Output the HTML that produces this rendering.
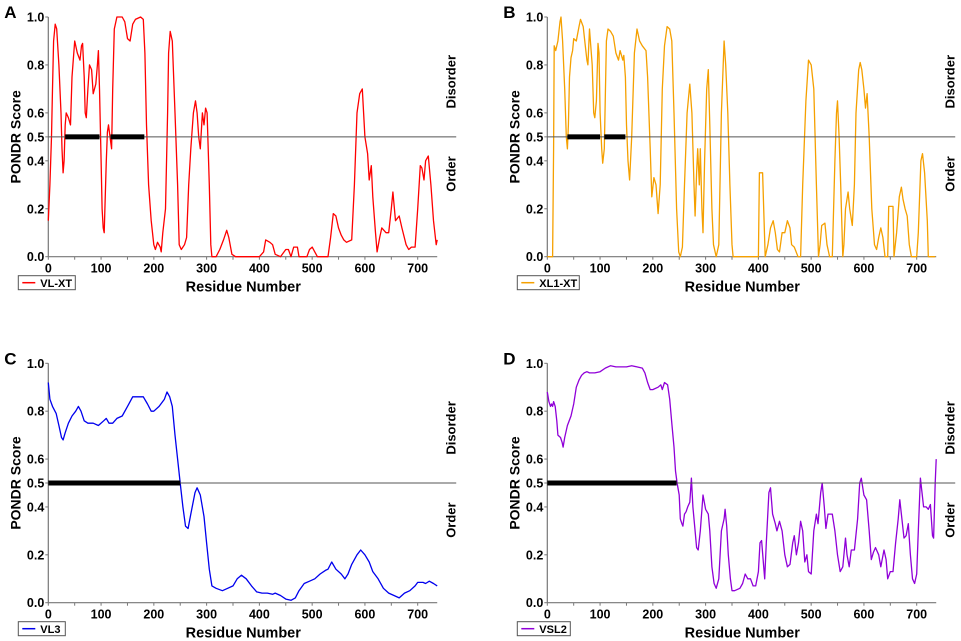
<!DOCTYPE html>
<html><head><meta charset="utf-8"><style>
body{margin:0;background:#fff;}
svg{display:block;font-family:"Liberation Sans",Arial,sans-serif;font-weight:bold;}
</style></head><body>
<svg id="fig" width="961" height="641" viewBox="0 0 961 641"></svg>
<script>
// Panel A: VL-XT
const resA=[0,3,6,8,10,13,16,20,24,26,28,30,32,34,38,42,45,50,55,60,63,65,68,70,72,75,78,82,85,90,93,95,97,100,102,104,106,110,112,114,117,120,122,125,130,140,145,150,155,160,165,175,180,183,186,190,195,200,203,207,212,214,217,222,226,228,231,235,240,245,248,252,258,262,266,270,275,279,282,285,288,292,295,298,301,305,308,310,318,325,332,338,342,348,355,400,408,412,420,425,430,440,450,455,460,465,472,475,490,495,500,505,510,530,535,540,545,550,555,560,565,575,580,585,590,595,600,605,608,612,615,620,623,628,632,640,645,650,653,658,665,670,678,683,688,695,700,705,708,712,715,720,725,730,735,737];
const valA=[0.15,0.3,0.5,0.7,0.9,0.97,0.95,0.8,0.6,0.45,0.35,0.4,0.55,0.6,0.58,0.55,0.75,0.9,0.85,0.82,0.88,0.89,0.75,0.6,0.58,0.7,0.8,0.78,0.68,0.72,0.8,0.86,0.7,0.4,0.2,0.12,0.1,0.4,0.52,0.55,0.5,0.45,0.7,0.95,1.0,1.0,0.98,0.91,0.9,0.97,0.99,1.0,0.99,0.85,0.55,0.3,0.15,0.05,0.03,0.06,0.04,0.02,0.1,0.2,0.6,0.85,0.94,0.9,0.6,0.3,0.05,0.03,0.05,0.08,0.3,0.45,0.6,0.65,0.6,0.5,0.45,0.6,0.55,0.62,0.6,0.3,0.05,0,0,0.03,0.07,0.11,0.08,0.01,0,0,0.02,0.07,0.06,0.05,0.01,0,0.03,0.03,0,0.04,0.04,0,0,0.03,0.04,0.02,0,0,0.08,0.18,0.17,0.12,0.09,0.07,0.06,0.07,0.3,0.6,0.68,0.7,0.5,0.43,0.32,0.38,0.25,0.1,0.02,0.08,0.12,0.1,0.1,0.2,0.27,0.15,0.17,0.12,0.05,0.03,0.04,0.04,0.2,0.38,0.37,0.32,0.4,0.42,0.3,0.15,0.05,0.07];
const barsA=[[32,97],[118,182]];
// Panel B: XL1-XT
const resB=[0,10,12,13,16,20,24,26,29,33,36,38,40,42,45,48,50,55,60,63,68,72,75,77,80,85,88,90,93,96,98,100,103,105,108,112,115,120,125,130,135,138,143,145,148,150,153,156,160,165,170,175,180,187,190,195,198,202,206,210,214,218,222,227,232,236,240,245,249,252,256,260,265,270,274,278,280,283,285,288,290,293,295,298,302,305,308,312,315,320,325,330,335,338,342,346,350,352,400,402,408,410,413,418,423,428,432,436,440,445,450,455,460,463,468,475,480,484,490,495,500,505,510,514,517,520,526,530,535,540,545,548,550,553,556,560,562,565,570,573,578,582,585,590,593,596,600,603,606,610,615,620,624,628,632,636,640,645,647,655,657,662,667,671,674,678,682,686,690,700,703,708,711,715,720,722,735];
const valB=[0,0,0.45,0.88,0.86,0.9,0.98,1.0,0.9,0.7,0.5,0.45,0.55,0.75,0.83,0.86,0.91,0.9,0.96,0.99,0.96,0.88,0.82,0.8,0.95,0.8,0.6,0.58,0.65,0.89,0.85,0.6,0.45,0.39,0.45,0.9,0.95,0.94,0.92,0.85,0.82,0.86,0.82,0.84,0.75,0.55,0.4,0.32,0.5,0.85,0.95,0.9,0.88,0.86,0.75,0.45,0.25,0.33,0.3,0.18,0.3,0.7,0.88,0.96,0.95,0.9,0.6,0.2,0.02,0,0.04,0.3,0.6,0.72,0.6,0.3,0.17,0.35,0.45,0.3,0.45,0.2,0.1,0.4,0.7,0.78,0.55,0.2,0.05,0,0.05,0.6,0.9,0.8,0.6,0.3,0.05,0,0,0.35,0.35,0.2,0,0.05,0.12,0.15,0.1,0.03,0.02,0.1,0.1,0.15,0.12,0.05,0.04,0,0,0.3,0.65,0.82,0.8,0.7,0.3,0,0.05,0.13,0.14,0.05,0,0,0.4,0.6,0.65,0.5,0.3,0,0.05,0.2,0.27,0.2,0.13,0.3,0.6,0.78,0.81,0.78,0.7,0.62,0.68,0.5,0.2,0.05,0.03,0.08,0.12,0.08,0,0,0.21,0.21,0,0.1,0.25,0.29,0.24,0.2,0.17,0.05,0,0,0.1,0.4,0.43,0.35,0.15,0,0];
const barsB=[[38,100],[108,148]];
// Panel C: VL3
const resC=[0,3,8,15,20,25,28,32,38,45,52,57,62,68,75,85,95,105,110,115,122,130,140,150,160,170,180,188,195,200,210,220,225,230,235,240,245,250,255,260,265,270,278,282,288,295,300,305,310,318,330,340,350,358,366,375,385,395,405,415,425,430,440,450,460,468,475,485,495,505,515,525,530,537,545,555,562,568,575,585,592,600,608,615,625,635,645,655,665,675,685,695,700,710,715,722,730,737];
const valC=[0.92,0.85,0.82,0.79,0.74,0.69,0.68,0.71,0.75,0.78,0.8,0.82,0.8,0.76,0.75,0.75,0.74,0.76,0.77,0.75,0.75,0.77,0.78,0.82,0.86,0.86,0.86,0.83,0.8,0.8,0.82,0.85,0.88,0.86,0.82,0.7,0.6,0.5,0.4,0.32,0.31,0.37,0.46,0.48,0.45,0.36,0.25,0.14,0.07,0.06,0.05,0.06,0.07,0.1,0.115,0.1,0.07,0.045,0.04,0.04,0.035,0.04,0.03,0.015,0.01,0.02,0.05,0.08,0.09,0.1,0.12,0.135,0.14,0.17,0.14,0.12,0.1,0.12,0.16,0.2,0.22,0.2,0.17,0.13,0.1,0.06,0.04,0.03,0.02,0.04,0.05,0.07,0.085,0.085,0.08,0.09,0.08,0.07];
const barsC=[[0,250]];
// Panel D: VSL2
const resD=[0,3,6,8,10,12,15,18,20,25,28,30,33,38,45,50,55,60,65,70,75,80,90,100,110,120,130,140,150,160,170,180,185,190,195,200,210,215,218,222,228,232,236,240,243,246,250,252,255,257,260,263,266,270,273,276,280,283,286,290,295,300,305,308,312,316,320,325,330,335,337,340,343,347,350,355,365,370,375,380,385,390,395,400,403,406,410,412,415,420,423,427,432,435,440,445,450,455,460,465,468,472,476,480,484,488,492,495,500,505,510,513,518,521,525,528,532,540,545,550,555,560,565,568,572,576,582,588,592,595,600,605,610,614,618,622,628,632,638,642,645,650,655,660,665,668,672,676,680,684,688,692,696,700,703,707,710,713,718,722,726,730,732,735,737];
const valD=[0.88,0.84,0.82,0.83,0.82,0.84,0.82,0.76,0.7,0.69,0.67,0.65,0.69,0.74,0.78,0.83,0.9,0.93,0.95,0.96,0.965,0.96,0.96,0.965,0.98,0.99,0.985,0.985,0.985,0.99,0.985,0.98,0.96,0.92,0.89,0.89,0.9,0.91,0.89,0.92,0.91,0.85,0.75,0.65,0.55,0.5,0.45,0.35,0.33,0.32,0.37,0.38,0.4,0.42,0.52,0.4,0.3,0.23,0.22,0.3,0.45,0.39,0.37,0.3,0.15,0.08,0.06,0.1,0.3,0.35,0.39,0.32,0.2,0.1,0.05,0.05,0.06,0.08,0.12,0.1,0.1,0.07,0.07,0.13,0.25,0.26,0.15,0.1,0.25,0.46,0.48,0.37,0.33,0.3,0.34,0.3,0.2,0.15,0.16,0.25,0.28,0.2,0.25,0.34,0.3,0.17,0.2,0.13,0.12,0.3,0.37,0.33,0.46,0.5,0.4,0.31,0.37,0.37,0.3,0.2,0.13,0.15,0.27,0.2,0.15,0.22,0.22,0.35,0.5,0.52,0.45,0.43,0.3,0.18,0.21,0.23,0.2,0.15,0.22,0.18,0.1,0.13,0.13,0.25,0.35,0.43,0.35,0.27,0.28,0.33,0.2,0.1,0.08,0.12,0.3,0.52,0.46,0.4,0.4,0.39,0.41,0.28,0.27,0.5,0.6];
const barsD=[[0,245]];
const yTicks=[0,0.2,0.4,0.5,0.6,0.8,1.0];
const yTickLabels=["0.0","0.2","0.4","0.5","0.6","0.8","1.0"];
const xTicks=[0,100,200,300,400,500,600,700];

const NS="http://www.w3.org/2000/svg";
const svg=document.getElementById('fig');
function mk(tag,attrs,parent,text){const e=document.createElementNS(NS,tag);for(const k in attrs)e.setAttribute(k,attrs[k]);if(text!==undefined)e.textContent=text;parent.appendChild(e);return e;}

function panel(letter,name,x0,yTop,yBot,res,val,bars,color,legend){
  const g=mk('g',{},svg);
  
  
  const sx=r=>x0+r*369.4/700;
  const sy=v=>yBot-v*(yBot-yTop);
  const xEnd=sx(737), lineEnd=sx(773);
  const lt=mk('text',{x:x0-44,y:yTop+1,'font-size':17,fill:'#000'},g,letter);
  
  
  const ya=mk('line',{x1:x0,y1:yTop,x2:x0,y2:yBot,stroke:'#777','stroke-width':1.2},g);
  
  
  const xa=mk('line',{x1:x0,y1:yBot,x2:xEnd,y2:yBot,stroke:'#777','stroke-width':1.2},g);
  
  
  yTicks.forEach((t,i)=>{
    mk('line',{x1:x0-3,y1:sy(t),x2:x0,y2:sy(t),stroke:'#777'},g);
    const tl=mk('text',{x:x0-4,y:sy(t)+4.5,'font-size':12.5,'text-anchor':'end',fill:'#000'},g,yTickLabels[i]);
    
    
  });
  for(let r=0;r<=700;r+=50){mk('line',{x1:sx(r),y1:yBot,x2:sx(r),y2:yBot+3,stroke:'#777'},g);}
  xTicks.forEach(t=>{
    const tl=mk('text',{x:sx(t),y:yBot+16,'font-size':12.5,'text-anchor':'middle',fill:'#000'},g,String(t));
    
    
  });
  const yt=mk('text',{transform:`translate(${x0-28},${(yTop+yBot)/2}) rotate(-90)`,'font-size':14,'text-anchor':'middle',fill:'#000'},g,'PONDR Score');
  
  
  const xt=mk('text',{x:x0+195,y:yBot+35,'font-size':14.5,'text-anchor':'middle',fill:'#000'},g,'Residue Number');
  
  
  const dl=mk('text',{transform:`translate(${lineEnd-0.5},${sy(0.73)}) rotate(-90)`,'font-size':13,'text-anchor':'middle',fill:'#000'},g,'Disorder');
  
  
  const ol=mk('text',{transform:`translate(${lineEnd-0.5},${sy(0.345)}) rotate(-90)`,'font-size':13,'text-anchor':'middle',fill:'#000'},g,'Order');
  
  
  let d='';res.forEach((r,i)=>{d+=(i?'L':'M')+sx(r).toFixed(1)+' '+sy(val[i]).toFixed(1);});
  const p=mk('path',{d:d,fill:'none',stroke:color,'stroke-width':1.3,'stroke-linejoin':'round'},g);
  
  
  const th=mk('line',{x1:x0,y1:sy(0.5),x2:lineEnd,y2:sy(0.5),stroke:'#555','stroke-width':1},g);
  
  
  bars.forEach(b=>{
    const br=mk('rect',{x:sx(b[0]),y:sy(0.5)-2.5,width:sx(b[1])-sx(b[0]),height:5,fill:'#000'},g);
    
    
  });
  const lg=mk('g',{},g);
  
  
  mk('rect',{x:x0-30,y:yBot+19,width:legend,height:14,fill:'#fff',stroke:'#555','stroke-width':1},lg);
  mk('line',{x1:x0-26,y1:yBot+26,x2:x0-13,y2:yBot+26,stroke:color,'stroke-width':1.5},lg);
  mk('text',{x:x0-8,y:yBot+30.5,'font-size':11,fill:'#000'},lg,name);
}
panel('A','VL-XT',48.3,17,256.7,resA,valA,barsA,'#f00',57);
panel('B','XL1-XT',547.3,17,256.7,resB,valB,barsB,'#f5a000',62);
panel('C','VL3',48.3,363.3,602.7,resC,valC,barsC,'#0000ee',47);
panel('D','VSL2',547.3,363.3,602.7,resD,valD,barsD,'#9000d8',53);
</script>
</body></html>
